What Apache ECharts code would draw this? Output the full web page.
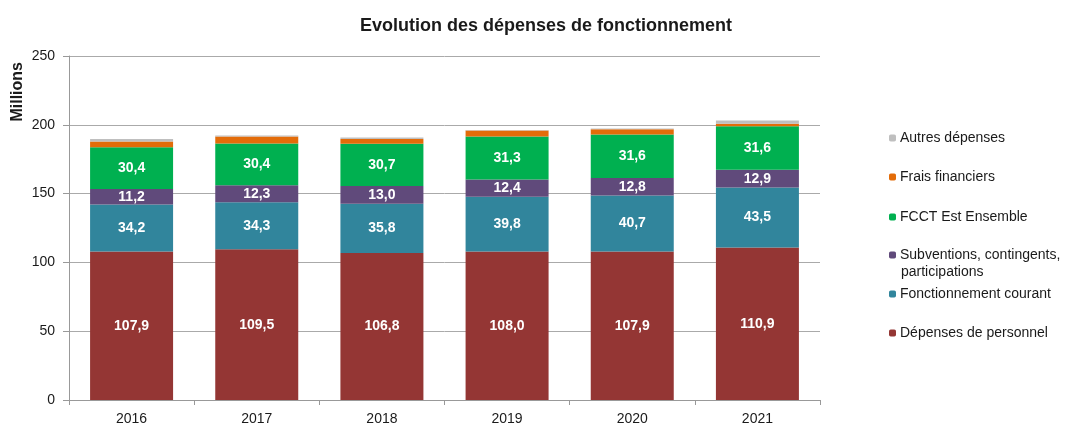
<!DOCTYPE html>
<html>
<head>
<meta charset="utf-8">
<script src="https://cdn.jsdelivr.net/npm/echarts@6/dist/echarts.min.js"></script>
<style>
  html, body { margin: 0; padding: 0; background: #fff; }
  #main { width: 1070px; height: 426px; }
</style>
</head>
<body>
<div id="main"></div>
<script>
// données (millions)
var years = ['2016', '2017', '2018', '2019', '2020', '2021']
var personnel = [107.9, 109.5, 106.8, 108.0, 107.9, 110.9]
var fonctionnement = [34.2, 34.3, 35.8, 39.8, 40.7, 43.5]
var subventions = [11.2, 12.3, 13.0, 12.4, 12.8, 12.9]
var fcct = [30.4, 30.4, 30.7, 31.3, 31.6, 31.6]
var frais = [4.2, 5.0, 3.3, 4.3, 3.8, 1.8]
var autres = [1.8, 0.7, 1.1, 0.5, 0.5, 2.5]
var yTicks = [0, 50, 100, 150, 200, 250]

var font = "'Liberation Sans', Arial, sans-serif"
var SUB = 'Subventions, contingents, participations'

function serie(name, data, color, showLabel) {
    return {
        name: name,
        type: 'bar',
        stack: 'total',
        barWidth: 83,
        data: data,
        itemStyle: { color: color },
        label: {
            show: showLabel,
            position: 'inside',
            color: '#fff',
            fontWeight: 'bold',
            fontSize: 14,
            fontFamily: font,
            formatter: function (p) { return p.value.toFixed(1).replace('.', ',') }
        }
    }
}

// centre vertical de chaque entrée de légende
var legendItems = [
    { name: 'Autres dépenses', y: 138 },
    { name: 'Frais financiers', y: 177 },
    { name: 'FCCT Est Ensemble', y: 217 },
    { name: SUB, y: 255 },
    { name: 'Fonctionnement courant', y: 294 },
    { name: 'Dépenses de personnel', y: 333 }
]

var chart = echarts.init(document.getElementById('main'))
var option = {
    animation: false,
    title: {
        text: 'Evolution des dépenses de fonctionnement',
        left: 541,
        textAlign: 'center',
        top: 12,
        textStyle: { fontSize: 18, fontWeight: 'bold', color: '#1a1a1a', fontFamily: font }
    },
    legend: legendItems.map(function (it) {
        return {
            data: [it.name],
            left: 889,
            top: it.y - 8,
            padding: 0,
            orient: 'vertical',
            itemWidth: 7,
            itemHeight: 7,
            itemGap: 0,
            selectedMode: false,
            formatter: function (n) { return n === SUB ? 'Subventions, contingents,' : n },
            textStyle: { fontSize: 14, color: '#1a1a1a', fontFamily: font, lineHeight: 16, padding: [0, 0, 0, -1] }
        }
    }),
    grid: { left: 69, right: 250, top: 56, bottom: 26 },
    graphic: [{
        type: 'text',
        left: 10,
        top: 62,
        rotation: Math.PI / 2,
        style: { text: 'Millions', font: 'bold 16px ' + font, fill: '#1a1a1a' }
    }, {
        type: 'text',
        left: 901,
        top: 265,
        style: { text: 'participations', font: '14px ' + font, fill: '#1a1a1a' }
    }],
    xAxis: {
        type: 'category',
        data: years,
        axisLine: { lineStyle: { color: '#999' } },
        axisTick: { show: true, length: 5, lineStyle: { color: '#999' } },
        axisLabel: { color: '#1a1a1a', fontSize: 14, fontFamily: font, margin: 12 }
    },
    yAxis: {
        type: 'value',
        min: yTicks[0],
        max: yTicks[yTicks.length - 1],
        interval: 50,
        axisLine: { show: true, lineStyle: { color: '#999' } },
        axisTick: { show: true, length: 6, lineStyle: { color: '#999' } },
        axisLabel: { color: '#1a1a1a', fontSize: 14, fontFamily: font, margin: 14 },
        splitLine: { lineStyle: { color: '#aaa' } }
    },
    series: [
        serie('Dépenses de personnel', personnel, '#943634', true),
        serie('Fonctionnement courant', fonctionnement, '#31859C', true),
        serie(SUB, subventions, '#604A7B', true),
        serie('FCCT Est Ensemble', fcct, '#00B050', true),
        serie('Frais financiers', frais, '#E36C09', false),
        serie('Autres dépenses', autres, '#BFBFBF', false)
    ]
}
chart.setOption(option)
</script>
</body>
</html>
